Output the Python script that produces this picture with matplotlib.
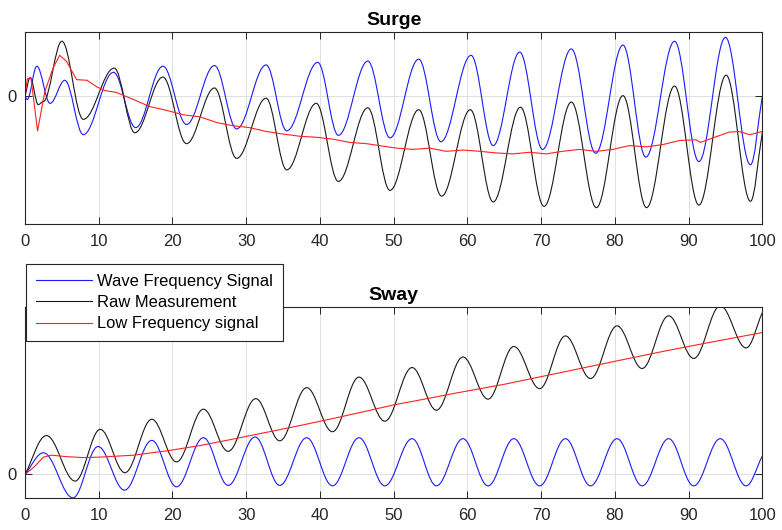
import matplotlib
matplotlib.use("Agg")
import matplotlib.pyplot as plt
from matplotlib.path import Path
from matplotlib.patches import PathPatch

plt.rcParams['font.family'] = ['Liberation Sans', 'DejaVu Sans']

# ---- Surge: turning points (time, value) ----
surge_wf_t = [0, 0.3, 1.6, 3.4, 5.4, 7.9, 12.0, 15.0, 18.7, 21.9, 25.7, 28.7, 32.7, 35.5,
              39.7, 42.5, 46.5, 49.5, 53.4, 56.4, 60.5, 63.5, 67.1, 70.2, 74.1, 77.4,
              81.1, 84.2, 88.1, 91.4, 95.0, 98.4, 100]
surge_wf_v = [0, -0.05, 0.47, -0.11, 0.25, -0.60, 0.375, -0.49, 0.47, -0.44, 0.48, -0.51,
              0.49, -0.54, 0.53, -0.61, 0.55, -0.65, 0.58, -0.71, 0.64, -0.77, 0.69, -0.83,
              0.74, -0.89, 0.80, -0.95, 0.86, -1.02, 0.92, -1.07, 0.0]

surge_raw_t = [0, 0.7, 1.8, 2.5, 5.0, 7.9, 12.1, 14.9, 18.7, 21.9, 25.7, 28.7, 32.7, 35.5,
               39.5, 42.5, 46.5, 49.5, 53.4, 56.5, 60.4, 63.5, 67.2, 70.4, 74.1, 77.5,
               81.1, 84.3, 88.1, 91.4, 95.1, 98.4, 100]
surge_raw_v = [0, 0.29, -0.13, -0.08, 0.86, -0.36, 0.44, -0.57, 0.30, -0.74, 0.13, -0.97,
               -0.03, -1.15, -0.11, -1.33, -0.18, -1.47, -0.21, -1.56, -0.21, -1.65, -0.17,
               -1.72, -0.09, -1.74, 0.01, -1.74, 0.16, -1.70, 0.33, -1.64, -0.57]

surge_lf_t = [0, 0.3, 0.8, 1.7, 2.7, 3.8, 4.7, 5.6, 7.0, 8.4, 9.7, 10.8, 12.4, 14.7, 16.9,
              19.2, 21.5, 23.7, 26.0, 28.2, 30.5, 32.7, 35.0, 37.3, 39.5, 41.8, 44.0, 46.3,
              48.6, 50.4, 52.6, 54.9, 57.1, 59.4, 61.7, 63.9, 66.2, 68.4, 70.7, 72.9, 75.2,
              77.5, 79.7, 82.0, 84.2, 86.5, 88.8, 91.0, 91.6, 93.3, 95.5, 96.8, 98.3, 100]
surge_lf_v = [0, 0.27, 0.29, -0.54, 0.08, 0.44, 0.64, 0.55, 0.26, 0.25, 0.15, 0.09, 0.06,
              -0.05, -0.16, -0.22, -0.29, -0.32, -0.41, -0.46, -0.49, -0.55, -0.59, -0.625,
              -0.64, -0.67, -0.72, -0.74, -0.78, -0.81, -0.83, -0.81, -0.86, -0.84, -0.86,
              -0.885, -0.90, -0.875, -0.90, -0.86, -0.83, -0.86, -0.83, -0.77, -0.79, -0.755,
              -0.69, -0.68, -0.72, -0.65, -0.56, -0.55, -0.60, -0.55]

# ---- Sway ----
sway_wf_t = [0, 2.5, 6.5, 9.9, 13.5, 17.2, 20.55, 24.2, 27.55, 31.2, 34.55, 38.2, 41.7,
             45.3, 48.8, 52.5, 55.8, 59.4, 62.8, 66.3, 69.8, 73.3, 76.7, 80.3, 83.7, 87.3,
             90.7, 94.3, 97.8, 100]
sway_wf_v = [0, 0.45, -0.49, 0.58, -0.33, 0.71, -0.26, 0.765, -0.23, 0.78, -0.23, 0.765,
             -0.24, 0.765, -0.24, 0.745, -0.24, 0.745, -0.24, 0.745, -0.24, 0.745, -0.24,
             0.745, -0.24, 0.745, -0.24, 0.745, -0.24, 0.38]

sway_raw_t = [0, 2.9, 6.8, 10.2, 13.55, 17.2, 20.55, 24.2, 27.55, 31.3, 34.55, 38.2, 41.7,
              45.3, 48.8, 52.5, 55.8, 59.4, 62.8, 66.3, 69.8, 73.3, 76.7, 80.3, 83.7, 87.3,
              90.7, 94.3, 97.8, 100]
sway_raw_v = [0, 0.81, -0.14, 0.94, 0.035, 1.15, 0.26, 1.36, 0.48, 1.58, 0.70, 1.81, 0.89,
              2.03, 1.11, 2.23, 1.34, 2.45, 1.57, 2.67, 1.79, 2.89, 2.00, 3.10, 2.21, 3.31,
              2.42, 3.52, 2.64, 3.375]

sway_lf_t = [0, 1.2, 2.5, 3.6, 5.6, 7.9, 10.2, 14.7, 19.2, 23.7, 28.0, 32.5, 37.0, 41.3,
             46.0, 50.0, 54.5, 58.9, 65.0, 72.5, 80.0, 86.0, 92.0, 100]
sway_lf_v = [0, 0.15, 0.36, 0.40, 0.37, 0.35, 0.36, 0.40, 0.49, 0.60, 0.73, 0.87, 1.01,
             1.15, 1.31, 1.45, 1.58, 1.71, 1.88, 2.12, 2.36, 2.55, 2.73, 2.96]

xticks = [0, 10, 20, 30, 40, 50, 60, 70, 80, 90, 100]
labels = ['Wave Frequency Signal', 'Raw Measurement', 'Low Frequency signal']
colors = ['#1a1aff', '#1a1a1a', '#ff2020']
K = 0.364  # bezier handle length that follows a half cosine between turning points


def wave_path(t, v):
    # smooth curve through turning points, flat at each peak/trough
    verts = [(t[0], v[0])]
    codes = [Path.MOVETO]
    n = len(t)
    for i in range(n - 1):
        dt = t[i + 1] - t[i]
        dv = v[i + 1] - v[i]
        if i == 0:
            c1 = (t[i] + K * dt, v[i] + K * dv)
        else:
            c1 = (t[i] + K * dt, v[i])
        if i + 1 == n - 1:
            c2 = (t[i + 1] - K * dt, v[i + 1] - K * dv)
        else:
            c2 = (t[i + 1] - K * dt, v[i + 1])
        verts += [c1, c2, (t[i + 1], v[i + 1])]
        codes += [Path.CURVE4] * 3
    return Path(verts, codes)


def style_axes(ax, title, ylim):
    ax.set_xlim(0, 100)
    ax.set_ylim(*ylim)
    ax.set_xticks(xticks)
    ax.set_yticks([0])
    ax.grid(True, color='#e0e0e0', lw=0.7)
    ax.set_axisbelow(True)
    for s in ax.spines.values():
        s.set_color('#262626')
        s.set_linewidth(0.8)
    ax.tick_params(direction='in', length=5, width=0.7, color='#262626',
                   labelcolor='#262626', labelsize=12, top=True, right=True)
    ax.tick_params(axis='x', pad=7)
    ax.tick_params(axis='y', pad=6)
    ax.set_title(title, fontsize=14, fontweight='bold', pad=5)


fig = plt.figure(figsize=(7.82, 5.30), dpi=100)
ax1 = fig.add_axes([0.032, 0.5768, 0.9428, 0.3623])
ax2 = fig.add_axes([0.032, 0.0598, 0.9428, 0.3615])

# Surge
ax1.add_patch(PathPatch(wave_path(surge_wf_t, surge_wf_v), fill=False, edgecolor=colors[0], lw=0.8))
ax1.add_patch(PathPatch(wave_path(surge_raw_t, surge_raw_v), fill=False, edgecolor=colors[1], lw=0.8))
ax1.plot(surge_lf_t, surge_lf_v, color=colors[2], lw=0.8)
style_axes(ax1, 'Surge', (-2, 1))

# Sway
ax2.add_patch(PathPatch(wave_path(sway_wf_t, sway_wf_v), fill=False, edgecolor=colors[0], lw=0.8))
ax2.add_patch(PathPatch(wave_path(sway_raw_t, sway_raw_v), fill=False, edgecolor=colors[1], lw=0.8))
ax2.plot(sway_lf_t, sway_lf_v, color=colors[2], lw=0.8)
style_axes(ax2, 'Sway', (-0.5, 3.5))

# legend entries
for c, lab in zip(colors, labels):
    ax2.plot([], [], color=c, lw=0.8, label=lab)
leg = ax2.legend(loc='upper left', bbox_to_anchor=(0.0015, 1.223), borderaxespad=0,
                 fontsize=11.9, fancybox=False, framealpha=1, edgecolor='#262626',
                 handlelength=3.4, handletextpad=0.3, labelspacing=0.38,
                 borderpad=0.6)
leg.get_frame().set_linewidth(0.8)
leg.set_zorder(10)

fig.savefig('out.png', dpi=100)
